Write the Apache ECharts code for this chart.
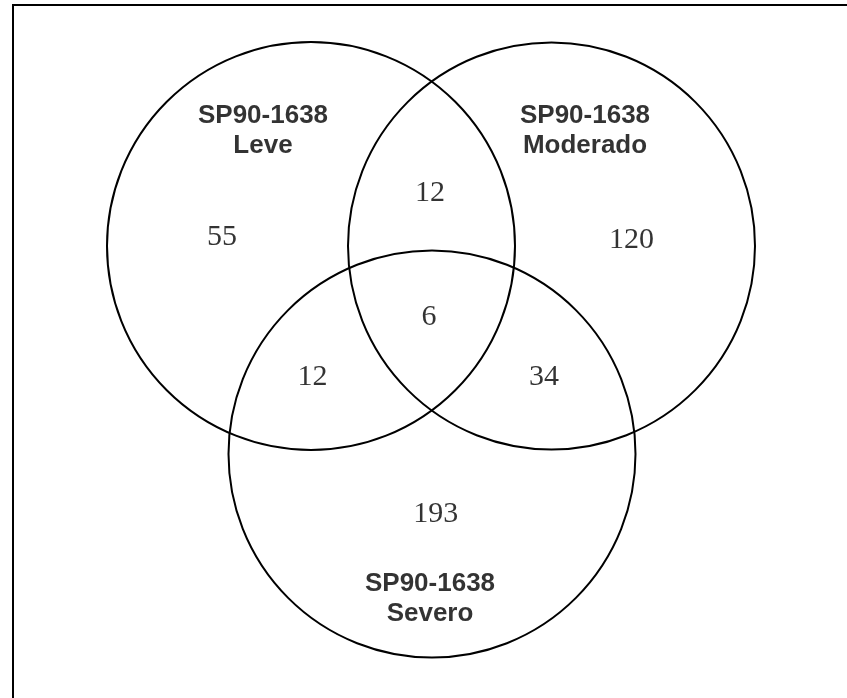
<!DOCTYPE html>
<html>
<head>
<meta charset="utf-8">
<style>
  html, body { margin: 0; padding: 0; background: #ffffff; }
  #chart { width: 847px; height: 698px; }
</style>
<script src="https://cdn.jsdelivr.net/npm/echarts@6/dist/echarts.min.js"></script>
</head>
<body>
<div id="chart"></div>
<script>
// ---- Data ----
var setNames = ['SP90-1638\nLeve', 'SP90-1638\nModerado', 'SP90-1638\nSevero'];
var regionNames = ['Leve', 'Leve ∩ Moderado', 'Moderado', 'Leve ∩ Severo', 'Leve ∩ Moderado ∩ Severo', 'Moderado ∩ Severo', 'Severo'];
var regionCounts = [55, 12, 120, 12, 6, 34, 193];

// ---- Layout (diagram coordinates, pixel-like units) ----
var circleLayout = [[311, 246, 204], [551.5, 246, 203.5], [432, 454, 203.5]];
var setLabelLayout = [[263, 131], [585, 131], [430, 599]];
var regionLabelLayout = [[222, 237.5], [430, 193], [631.5, 240], [312.5, 377], [429, 317.5], [544, 377], [435.7, 514.5]];

var chart = echarts.init(document.getElementById('chart'), null, { renderer: 'canvas' });

var circleData = circleLayout.map(function (c, i) { return { name: setNames[i], value: c }; });
var setLabelData = setLabelLayout.map(function (p, i) { return { name: setNames[i], value: p }; });
var regionData = regionLabelLayout.map(function (p, i) { return { name: regionNames[i], value: p.concat([regionCounts[i]]) }; });

chart.setOption({
  animation: false,
  backgroundColor: '#ffffff',
  grid: { left: 0, right: 0, top: 0, bottom: 0 },
  xAxis: { type: 'value', min: 0, max: 847, show: false },
  yAxis: { type: 'value', min: 0, max: 698, inverse: true, show: false },
  graphic: [{
    type: 'polyline',
    shape: { points: [[13, 698], [13, 5], [847, 5]] },
    style: { stroke: '#000000', lineWidth: 2, fill: null }
  }],
  series: [
    {
      type: 'custom',
      coordinateSystem: 'cartesian2d',
      data: circleData,
      renderItem: function (params, api) {
        var c = api.coord([api.value(0), api.value(1)]);
        var r = api.size([api.value(2), 0])[0];
        return {
          type: 'circle',
          shape: { cx: c[0], cy: c[1], r: r },
          style: { fill: null, stroke: '#000000', lineWidth: 2 }
        };
      },
      silent: true
    },
    {
      type: 'scatter',
      data: setLabelData,
      symbolSize: 0,
      silent: true,
      label: {
        show: true,
        position: 'inside',
        formatter: function (p) { return p.name; },
        fontFamily: 'Liberation Sans, Arial, sans-serif',
        fontWeight: 'bold',
        fontSize: 26,
        lineHeight: 30,
        color: '#000000',
        textBorderWidth: 0,
        align: 'center'
      }
    },
    {
      type: 'scatter',
      data: regionData,
      symbolSize: 0,
      silent: true,
      label: {
        show: true,
        position: 'inside',
        formatter: function (p) { return String(p.value[2]); },
        fontFamily: 'Liberation Serif, Times New Roman, serif',
        fontSize: 30,
        color: '#000000',
        textBorderWidth: 0
      }
    }
  ]
});
</script>
</body>
</html>
